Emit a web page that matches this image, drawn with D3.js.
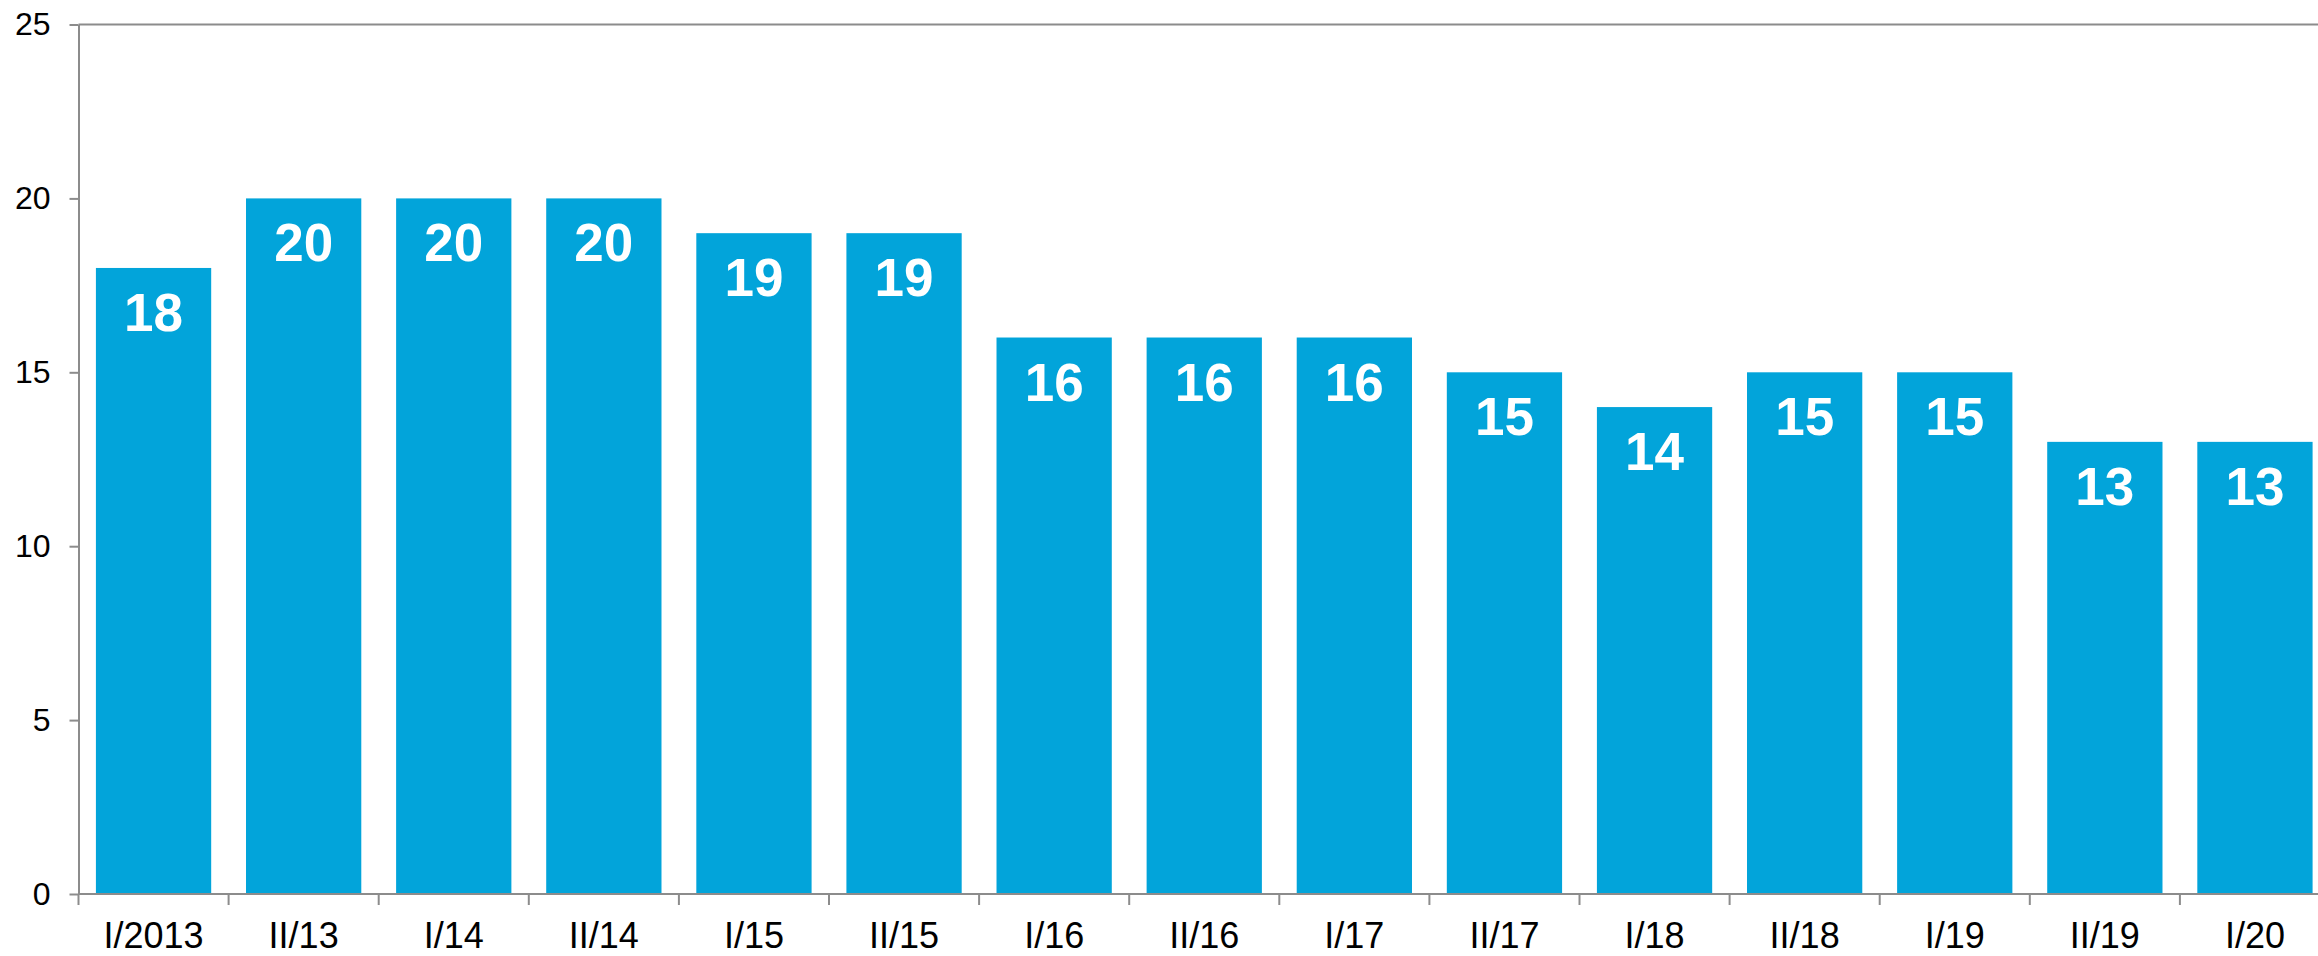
<!DOCTYPE html>
<meta charset="utf-8">
<script src="https://d3js.org/d3.v7.min.js"></script>
<style>
  body { margin: 0; background: #fff; font-family: "Liberation Sans", Arial, sans-serif; }
</style>
<div id="chart"></div>
<script>
// data
var periods = ["I/2013","II/13","I/14","II/14","I/15","II/15","I/16","II/16","I/17","II/17","I/18","II/18","I/19","II/19","I/20"]
var values = [18,20,20,20,19,19,16,16,16,15,14,15,15,13,13]
var yTicks = [0,5,10,15,20,25]

var width = 2318, height = 956
var margin = {top: 24.5, left: 78.5, bottom: 62}

var svg = d3.select("#chart").append("svg")
  .attr("width", width)
  .attr("height", height)

// band width ~150px, last band runs off the right edge
var x = d3.scaleBand()
  .domain(periods)
  .range([margin.left, margin.left + 150.1 * periods.length])
  .paddingInner(0.232)
  .paddingOuter(0.116)

var y = d3.scaleLinear()
  .domain([0, 25])
  .range([height - margin.bottom, margin.top])

var axisColor = "#8c8c8c"

// top line at 25
svg.append("line")
  .attr("x1", margin.left).attr("x2", width)
  .attr("y1", y(25)).attr("y2", y(25))
  .attr("stroke", axisColor).attr("stroke-width", 2)

// bars
svg.append("g").selectAll("rect")
  .data(values)
  .enter()
  .append("rect")
  .attr("x", function(d, i){ return x(periods[i]) })
  .attr("width", x.bandwidth())
  .attr("y", function(d){ return y(d) })
  .attr("height", function(d){ return y(0) - y(d) })
  .attr("fill", "#02a4da")

// value labels
svg.append("g").selectAll("text")
  .data(values)
  .enter()
  .append("text")
  .attr("x", function(d, i){ return x(periods[i]) + x.bandwidth() / 2 })
  .attr("y", function(d){ return y(d) + 63 })
  .attr("text-anchor", "middle")
  .attr("fill", "#fff")
  .style("font-weight", "bold")
  .style("font-size", "53px")
  .text(function(d){ return d })

// y axis
var yAxis = svg.append("g")
  .attr("transform", "translate(" + margin.left + ",0)")
  .call(d3.axisLeft(y).tickValues(yTicks).tickSize(9).tickPadding(19).tickSizeOuter(0))
yAxis.select(".domain").attr("stroke", axisColor).attr("stroke-width", 2)
yAxis.selectAll(".tick line").attr("stroke", axisColor).attr("stroke-width", 2)
yAxis.selectAll("text")
  .style("font-family", "'Liberation Sans', Arial, sans-serif")
  .style("font-size", "32px")
  .attr("fill", "#000")

// x axis, ticks between bands
var xAxis = svg.append("g")
  .attr("transform", "translate(0," + y(0) + ")")
  .call(d3.axisBottom(x).tickSize(0).tickPadding(28).tickSizeOuter(0))
xAxis.select(".domain").remove()
xAxis.selectAll("text")
  .style("font-family", "'Liberation Sans', Arial, sans-serif")
  .style("font-size", "36px")
  .attr("fill", "#000")

svg.append("line")
  .attr("x1", margin.left).attr("x2", width)
  .attr("y1", y(0)).attr("y2", y(0))
  .attr("stroke", axisColor).attr("stroke-width", 2)

var step = x.step()
svg.append("g").selectAll("line")
  .data(d3.range(periods.length + 1))
  .enter()
  .append("line")
  .attr("x1", function(i){ return margin.left + i * step })
  .attr("x2", function(i){ return margin.left + i * step })
  .attr("y1", y(0))
  .attr("y2", y(0) + 11)
  .attr("stroke", axisColor)
  .attr("stroke-width", 2)
</script>
